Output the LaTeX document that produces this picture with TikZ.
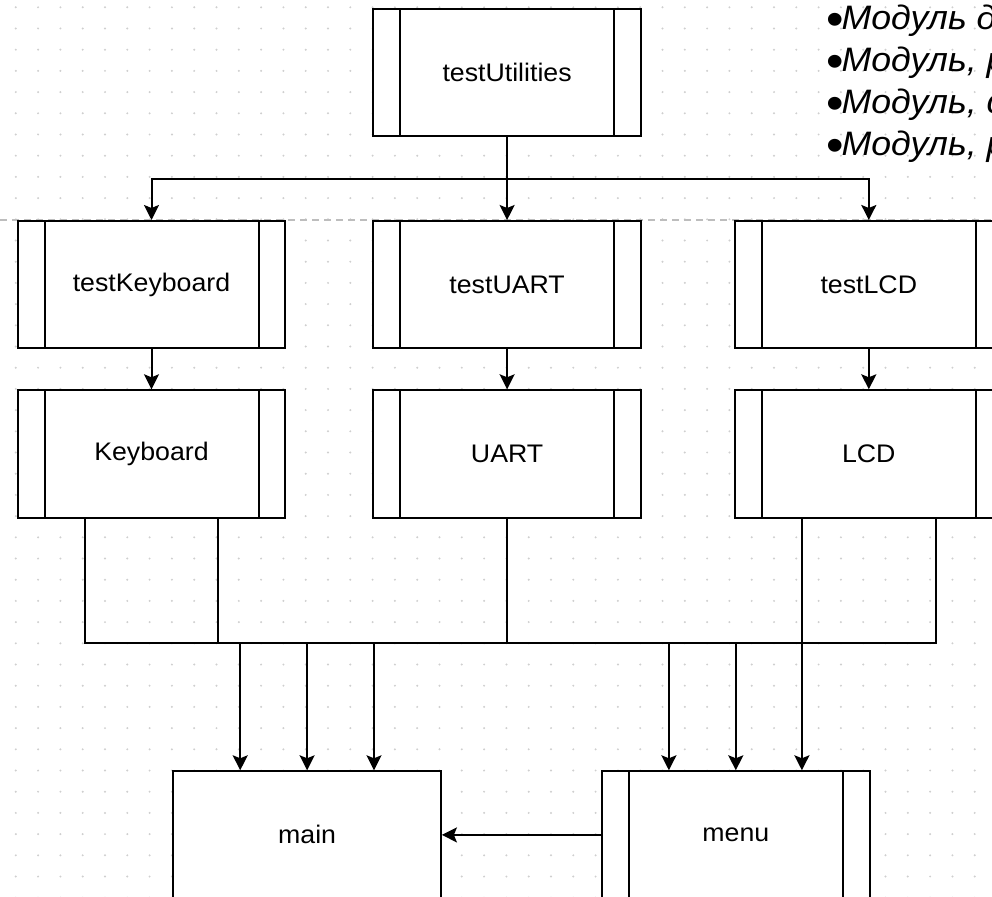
\documentclass[tikz,border=0pt]{standalone}
\usepackage{fontspec}
\usetikzlibrary{arrows.meta,calc}
\newfontfamily\boxfont{Liberation Sans}[FakeStretch=1.052]
\newfontfamily\notefont{Liberation Sans}[FakeStretch=1.052]
\definecolor{gridc}{HTML}{CFCFCF}
\definecolor{dashc}{HTML}{BDBDBD}
\newcommand{\nbul}{\smash{\raisebox{-6pt}{\scalebox{1.4}{\upshape •}}}\hspace{-2pt}}
\tikzset{
  wire/.style={line width=2pt, draw=black},
  arr/.style={wire, -{Stealth[length=15pt,width=15pt,inset=3pt]}},
  blk/.style={draw, line width=2pt, fill=white, minimum width=267.6pt, minimum height=127.2pt,
    inner sep=0pt, anchor=north west, font={\boxfont\fontsize{25.4pt}{30pt}\selectfont}},
  proc/.style={blk, path picture={
    \draw[line width=2pt] ([xshift=26.8pt]path picture bounding box.north west) -- ([xshift=26.8pt]path picture bounding box.south west);
    \draw[line width=2pt] ([xshift=-26.8pt]path picture bounding box.north east) -- ([xshift=-26.8pt]path picture bounding box.south east);}},
  note/.style={anchor=base west, inner sep=0pt, font={\notefont\itshape\fontsize{33.9pt}{40.7pt}\selectfont}},
}
\begin{document}
\begin{tikzpicture}[x=1pt,y=-1pt]
\clip (0,0) rectangle (992,896);
\useasboundingbox (0,0) rectangle (992,896);
\fill[white] (0,0) rectangle (992,896);
% grid
\foreach \i in {0,...,44}{
  \foreach \j in {0,...,42}{
    \fill[gridc] (15.8+22.3*\i, 7.3+21.2*\j) circle (1.1);
  }
}
% dashed guide line
\draw[dashc, line width=1.5pt, dash pattern=on 7pt off 5pt] (0,220) -- (992,220);
% boxes
\node[proc] (tu)  at (372.3,8.3)   {testUtilities};
\node[proc] (tk)  at (16.7,220)    {testKeyboard};
\node[proc] (tua) at (372.3,220)   {testUART};
\node[proc] (tl)  at (734,220)     {testLCD};
\node[proc] (kb)  at (16.7,389.3)  {Keyboard};
\node[proc] (ua)  at (372.3,389.3) {UART};
\node[proc] (lcd) at (734,389.3)   {LCD};
\node[blk]  (main) at (172.3,770.3) {main};
\node[proc] (menu) at (601,770.3)  {menu};
% top split
\coordinate (split) at ($(tu.south)!0.5!(tua.north)$);
\draw[arr] (tu.south) -- (tua.north);
\draw[arr] (split) -| (tk.north);
\draw[arr] (split) -| (tl.north);
% second row
\draw[arr] (tk.south) -- (kb.north);
\draw[arr] (tua.south) -- (ua.north);
\draw[arr] (tl.south) -- (lcd.north);
% bus
\coordinate (bus) at (0,643.3);
\draw[wire] ([xshift=-66.9pt]kb.south) |- ([xshift=66.9pt]lcd.south |- bus) -- ([xshift=66.9pt]lcd.south);
\draw[wire] ([xshift=66.9pt]kb.south) -- ([xshift=66.9pt]kb.south |- bus);
\draw[wire] (ua.south) -- (ua.south |- bus);
% to main
\draw[arr] ([xshift=-66.9pt]main.north |- bus) -- ([xshift=-66.9pt]main.north);
\draw[arr] (main.north |- bus) -- (main.north);
\draw[arr] ([xshift=66.9pt]main.north |- bus) -- ([xshift=66.9pt]main.north);
% to menu
\draw[arr] ([xshift=-66.9pt]menu.north |- bus) -- ([xshift=-66.9pt]menu.north);
\draw[arr] (menu.north |- bus) -- (menu.north);
\draw[arr] ([xshift=-66.9pt]lcd.south) -- ([xshift=-66.9pt]lcd.south |- menu.north);
% menu -> main
\draw[arr] (menu.west) -- (main.east);
% notes
\node[note] (n1) at (826,30)    {\nbul Модуль д};
\node[note] (n2) at (826,71.7)  {\nbul Модуль, р};
\node[note] (n3) at (826,113.4) {\nbul Модуль, с};
\node[note] (n4) at (826,155.1) {\nbul Модуль, р};
\end{tikzpicture}
\end{document}
